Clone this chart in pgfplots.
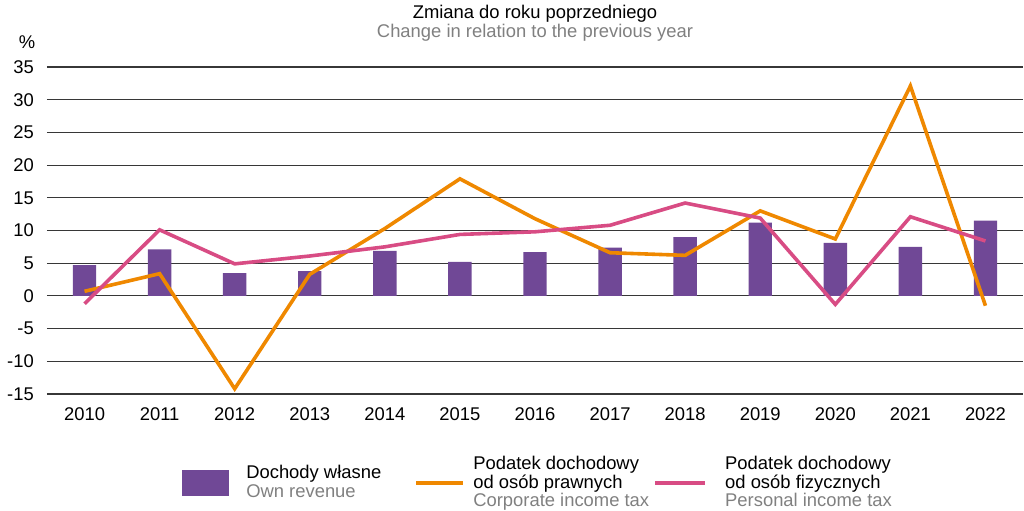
\documentclass[border=0pt]{standalone}
\usepackage{fontspec}
\setmainfont{Liberation Sans}
\usepackage{pgfplots}
\pgfplotsset{compat=1.18}
\definecolor{barpurple}{RGB}{112,72,150}
\definecolor{corporange}{RGB}{239,136,0}
\definecolor{perspink}{RGB}{216,76,132}
\definecolor{txtgray}{RGB}{128,128,128}
\definecolor{gridc}{RGB}{55,55,55}
\begin{document}
\fontsize{18.4bp}{18.5bp}\selectfont
\begin{tikzpicture}
\begin{axis}[
  scale only axis, width=976bp, height=327bp,
  xmin=-0.5, xmax=12.5, ymin=-15, ymax=35,
  xtick={0,1,2,3,4,5,6,7,8,9,10,11,12},
  xticklabels={2010,2011,2012,2013,2014,2015,2016,2017,2018,2019,2020,2021,2022},
  ytick={-15,-10,-5,0,5,10,15,20,25,30,35},
  yticklabels={-15,-10,-5,0,5,10,15,20,25,30,35},
  axis line style={draw=none},
  major tick length=0pt,
  ymajorgrids, grid style={gridc, line width=1.1bp},
  yticklabel style={inner sep=0pt, anchor=east, xshift=-13bp},
  xticklabel style={inner sep=0pt, anchor=north, yshift=-13bp},
  clip=false,
  legend columns=3,
  legend style={draw=none, fill=none, inner sep=0pt, at={(0.138,-0.272)}, anchor=west,
    nodes={inner sep=0pt}, cells={align=left, anchor=west},
    /tikz/column 1/.style={column sep=18bp},
    /tikz/column 2/.style={column sep=33bp},
    /tikz/column 3/.style={column sep=8bp},
    /tikz/column 4/.style={column sep=4bp},
    /tikz/column 5/.style={column sep=18bp},
    /tikz/every node/.append style={font=\fontsize{18.4bp}{18.5bp}\selectfont}},
]
\addlegendimage{legend image code/.code={\fill[barpurple] (0bp,-12.5bp) rectangle (46bp,12.5bp);}}
\addlegendentry{Dochody własne\\\textcolor{txtgray}{Own revenue}}
\addlegendimage{legend image code/.code={\draw[corporange, line width=4bp] (0bp,0bp) -- (47bp,0bp);}}
\addlegendentry{Podatek dochodowy\\od osób prawnych\\\textcolor{txtgray}{Corporate income tax}}
\addlegendimage{legend image code/.code={\draw[perspink, line width=4bp] (0bp,0bp) -- (50bp,0bp);}}
\addlegendentry{Podatek dochodowy\\od osób fizycznych\\\textcolor{txtgray}{Personal income tax}}

% Own revenue (bars)
\addplot[ybar, bar width=23.4bp, fill=barpurple, draw=none, forget plot] coordinates {
(0,4.7) (1,7.1) (2,3.5) (3,3.8) (4,6.9) (5,5.2) (6,6.7) (7,7.4) (8,9.0) (9,11.2) (10,8.1) (11,7.5) (12,11.5)};
% Corporate income tax
\addplot[corporange, line width=3.6bp, forget plot] coordinates {
(0,0.7) (1,3.4) (2,-14.2) (3,3.3) (4,10.3) (5,17.9) (6,11.8) (7,6.6) (8,6.2) (9,13.0) (10,8.7) (11,32.1) (12,-1.5)};
% Personal income tax
\addplot[perspink, line width=3.6bp, forget plot] coordinates {
(0,-1.2) (1,10.1) (2,4.9) (3,6.1) (4,7.5) (5,9.4) (6,9.8) (7,10.8) (8,14.2) (9,11.9) (10,-1.3) (11,12.1) (12,8.4)};

\node[align=center, font=\fontsize{18.4bp}{19bp}\selectfont] at (rel axis cs:0.5,1) [yshift=43.5bp]
  {Zmiana do roku poprzedniego\\\textcolor{txtgray}{Change in relation to the previous year}};
\node at (rel axis cs:0,1) [xshift=-20bp, yshift=25bp] {\%};
\end{axis}
\pgfresetboundingbox
\path[use as bounding box] ([xshift=-47bp,yshift=-117bp]current axis.south west) rectangle ([xshift=1bp,yshift=67bp]current axis.north east);
\end{tikzpicture}
\end{document}
